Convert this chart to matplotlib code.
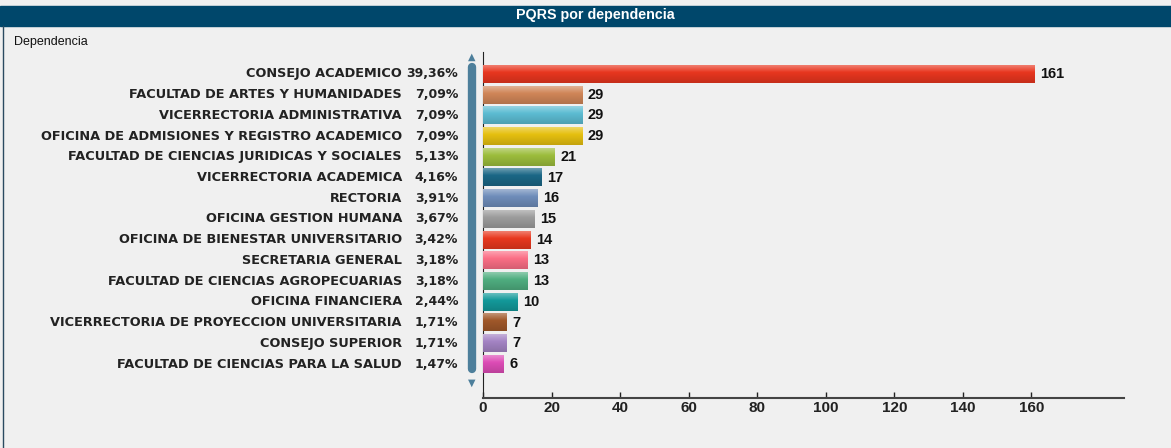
import matplotlib
matplotlib.use('Agg')
import matplotlib.pyplot as plt
import matplotlib.transforms as mtransforms
from matplotlib.colors import to_rgb
import numpy as np

plt.rcParams['font.family'] = ['Liberation Sans', 'DejaVu Sans']

dependencias = ['CONSEJO ACADEMICO', 'FACULTAD DE ARTES Y HUMANIDADES',
                'VICERRECTORIA ADMINISTRATIVA',
                'OFICINA DE ADMISIONES Y REGISTRO ACADEMICO',
                'FACULTAD DE CIENCIAS JURIDICAS Y SOCIALES',
                'VICERRECTORIA ACADEMICA', 'RECTORIA', 'OFICINA GESTION HUMANA',
                'OFICINA DE BIENESTAR UNIVERSITARIO', 'SECRETARIA GENERAL',
                'FACULTAD DE CIENCIAS AGROPECUARIAS', 'OFICINA FINANCIERA',
                'VICERRECTORIA DE PROYECCION UNIVERSITARIA', 'CONSEJO SUPERIOR',
                'FACULTAD DE CIENCIAS PARA LA SALUD']
cantidad = [161, 29, 29, 29, 21, 17, 16, 15, 14, 13, 13, 10, 7, 7, 6]
porcentaje = ['39,36%', '7,09%', '7,09%', '7,09%', '5,13%', '4,16%', '3,91%',
              '3,67%', '3,42%', '3,18%', '3,18%', '2,44%', '1,71%', '1,71%',
              '1,47%']
colores = ['#e8361f', '#d08658', '#5cbcd2', '#e6c010', '#9cbd3c', '#1b6786',
           '#6f8dba', '#9c9c9c', '#e8381f', '#fb6f86', '#4fae80', '#13999a',
           '#a0582a', '#a484c4', '#dd4cb6']
ticks_x = [0, 20, 40, 60, 80, 100, 120, 140, 160]

bg = '#f0f0f0'
fig = plt.figure(figsize=(11.71, 4.48), dpi=100, facecolor=bg)

# barra de titulo
fig.patches.append(plt.Rectangle((0, 1 - 26/448), 1, 20/448, transform=fig.transFigure,
                                 color='#00476b', zorder=0))
fig.text(595/1171, 1 - 15.5/448, 'PQRS por dependencia', color='white', fontsize=10.3,
         fontweight='bold', ha='center', va='center')
fig.text(14/1171, 1 - 42/448, 'Dependencia', color='#111111', fontsize=9, va='center')
fig.add_artist(plt.Line2D([3.5/1171, 3.5/1171], [0, 1 - 26/448], color='#2a4a60', lw=1))

ax = fig.add_axes([483/1171, 1 - 398/448, (1124 - 483)/1171, (398 - 52)/448])
ax.set_facecolor(bg)
y = np.arange(len(cantidad))
bars = ax.barh(y, cantidad, height=0.86, color=colores, zorder=2)

# degradado en cada barra
for b, c in zip(bars, colores):
    base = np.array(to_rgb(c))
    t = np.linspace(0, 1, 32)[:, None]
    light = base + (1 - base) * 0.35
    dark = base * 0.85
    grad = np.where(t < 0.4, light + (base - light) * (t / 0.4),
                    base + (dark - base) * ((t - 0.4) / 0.6))
    img = grad[:, None, :]
    x0, y0, w, h = b.get_x(), b.get_y(), b.get_width(), b.get_height()
    ax.imshow(img, extent=(x0, x0 + w, y0 + h, y0), aspect='auto', zorder=3,
              interpolation='bilinear')
    b.set_visible(False)
ax.set_xlim(0, 187)
ax.set_ylim(15.64, -1.06)

for yi, v in zip(y, cantidad):
    ax.annotate(str(v), (v, yi), xytext=(4, 0), textcoords='offset points',
                va='center', ha='left', fontsize=10.5, fontweight='bold', color='#111111')

trans = mtransforms.blended_transform_factory(fig.transFigure, ax.transData)
for yi, name, pct in zip(y, dependencias, porcentaje):
    fig.text(402/1171, yi, name, transform=trans, ha='right', va='center',
             fontsize=9.3, fontweight='bold', color='#222222', family='DejaVu Sans')
    fig.text(458/1171, yi, pct, transform=trans, ha='right', va='center',
             fontsize=9.0, fontweight='bold', color='#222222', family='DejaVu Sans')

# barra de desplazamiento
fig.add_artist(plt.Line2D([472/1171, 472/1171], [1 - 67/448, 1 - 369/448],
                          color='#4d7f9b', lw=6, solid_capstyle='round'))
fig.text(472/1171, 1 - 57/448, '\u25b2', color='#4d7f9b', fontsize=7,
         ha='center', va='center', family='DejaVu Sans')
fig.text(472/1171, 1 - 383/448, '\u25bc', color='#4d7f9b', fontsize=7,
         ha='center', va='center', family='DejaVu Sans')

ax.set_yticks([])
ax.set_xticks(ticks_x)
ax.tick_params(axis='x', direction='in', length=4, width=1, labelsize=11,
               colors='#222222', pad=2)
for lab in ax.get_xticklabels():
    lab.set_fontweight('bold')
for s in ['top', 'right']:
    ax.spines[s].set_visible(False)
ax.spines['left'].set_color('#222222')
ax.spines['bottom'].set_color('#444444')
ax.spines['bottom'].set_linewidth(1.5)

fig.savefig('out.png', dpi=100, facecolor=bg)
